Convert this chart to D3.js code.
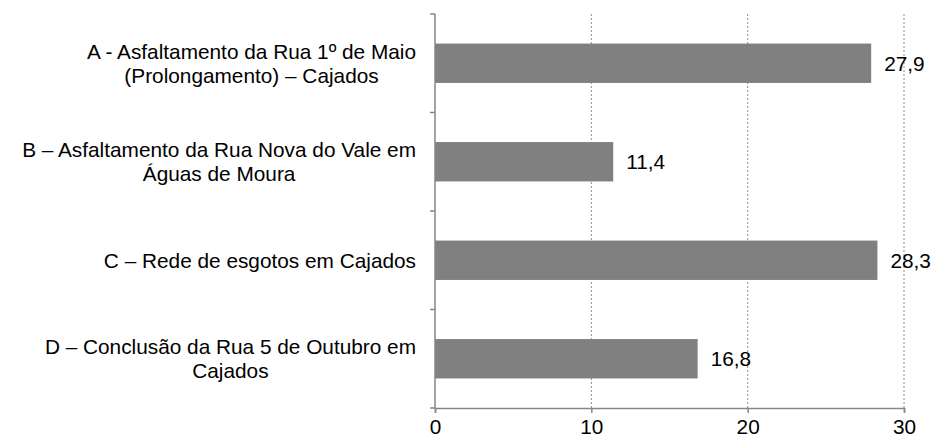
<!DOCTYPE html>
<html lang="pt">
<head>
<meta charset="UTF-8"/>
<title>Obras</title>
<script src="https://d3js.org/d3.v7.min.js"></script>
<style>
  body { margin: 0; background: #fff; }
  text { font-family: "Liberation Sans", Arial, sans-serif; font-size: 20.8px; fill: #000; }
</style>
</head>
<body>
<script>
// data
var categories = [
  ["A - Asfaltamento da Rua 1º de Maio", "(Prolongamento) – Cajados"],
  ["B – Asfaltamento da Rua Nova do Vale em", "Águas de Moura"],
  ["C – Rede de esgotos em Cajados"],
  ["D – Conclusão da Rua 5 de Outubro em", "Cajados"]
];
var values = [27.9, 11.4, 28.3, 16.8];
var valueLabels = ["27,9", "11,4", "28,3", "16,8"];
var xTicks = [0, 10, 20, 30];

var w = 936, h = 441;
var plotLeft = 435, plotRight = 904, plotTop = 14, plotBottom = 408;

var svg = d3.select("body").append("svg")
  .attr("width", w).attr("height", h);

var x = d3.scaleLinear().domain([0, 30]).range([plotLeft, plotRight]);
var y = d3.scaleBand().domain(d3.range(categories.length))
  .range([plotTop, plotBottom]).paddingInner(0.6).paddingOuter(0.3);

// gridlines
svg.selectAll("line.grid")
  .data(xTicks.slice(1))
  .enter().append("line")
  .attr("x1", function(d) { return x(d); })
  .attr("x2", function(d) { return x(d); })
  .attr("y1", plotTop).attr("y2", plotBottom)
  .attr("stroke", "#8c8c8c")
  .attr("stroke-width", 1)
  .attr("stroke-dasharray", "2,2");

// bars
svg.selectAll("rect")
  .data(values)
  .enter().append("rect")
  .attr("x", x(0))
  .attr("y", function(d, i) { return y(i); })
  .attr("width", function(d) { return x(d) - x(0); })
  .attr("height", y.bandwidth())
  .attr("fill", "#808080");

// value labels
svg.selectAll("text.val")
  .data(values)
  .enter().append("text")
  .attr("class", "val")
  .attr("x", function(d) { return x(d) + 13; })
  .attr("y", function(d, i) { return y(i) + y.bandwidth() / 2; })
  .attr("dy", "0.35em")
  .text(function(d, i) { return valueLabels[i]; });

// x axis
var xAxis = svg.append("g")
  .attr("transform", "translate(0," + plotBottom + ")")
  .call(d3.axisBottom(x).tickValues(xTicks).tickSize(5).tickPadding(6));
xAxis.select(".domain").attr("stroke", "#868686").attr("stroke-width", 1.5);
xAxis.selectAll(".tick line").attr("stroke", "#868686").attr("stroke-width", 1.5);
xAxis.selectAll("text").style("font-size", "20.8px").attr("fill", "#000")
  .style("font-family", "Liberation Sans, Arial, sans-serif");

// y axis line and ticks between categories
var yEdges = d3.range(categories.length + 1).map(function(i) {
  return plotTop + i * (plotBottom - plotTop) / categories.length;
});
svg.append("line")
  .attr("x1", plotLeft).attr("x2", plotLeft)
  .attr("y1", plotTop).attr("y2", plotBottom)
  .attr("stroke", "#868686").attr("stroke-width", 1.5);
svg.selectAll("line.ytick")
  .data(yEdges)
  .enter().append("line")
  .attr("x1", plotLeft - 5).attr("x2", plotLeft)
  .attr("y1", function(d) { return d; })
  .attr("y2", function(d) { return d; })
  .attr("stroke", "#868686").attr("stroke-width", 1.5);

// category labels, wrapped lines centred inside a right-aligned block
var labelRight = 416, lineH = 24;
categories.forEach(function(lines, i) {
  var g = svg.append("g");
  var cy = y(i) + y.bandwidth() / 2;
  var texts = lines.map(function(s, j) {
    return g.append("text")
      .attr("y", cy + (j - (lines.length - 1) / 2) * lineH)
      .attr("dy", "0.35em")
      .attr("text-anchor", "middle")
      .text(s);
  });
  var maxW = d3.max(texts, function(t) { return t.node().getComputedTextLength(); });
  texts.forEach(function(t) { t.attr("x", labelRight - maxW / 2); });
});
</script>
</body>
</html>
